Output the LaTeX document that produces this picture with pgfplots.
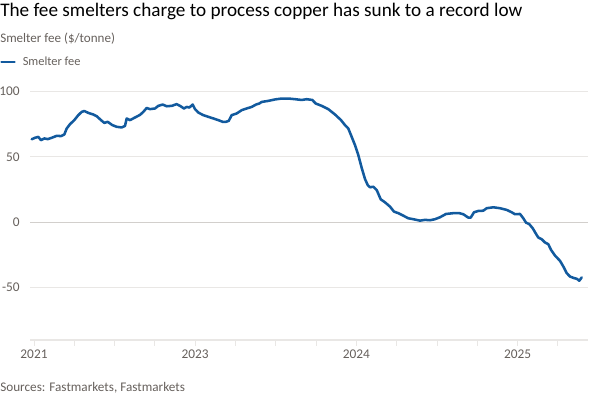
\documentclass[border=0pt]{standalone}
\usepackage{pgfplots}
\pgfplotsset{compat=1.18}
\usepackage{fontspec}
\setmainfont{Carlito}
\definecolor{ftblue}{HTML}{125A9E}
\definecolor{ftgrey}{HTML}{66605C}
\definecolor{gridc}{HTML}{E9E7E5}
\definecolor{zeroc}{HTML}{D2CFCC}
\pgfplotstableread{
x y
31.7 63.4
35 64.5
38.3 65.2
41 62.7
44.3 64
47.7 63.5
51.7 64.5
56.7 66
61 65.8
64.3 67
66.7 71.6
70 74.9
74.3 78
78.3 81.8
81.7 84.3
84.3 85
88.3 83.5
93.3 82.3
96.7 81
101 78
104.3 75.9
107.7 76.7
112.3 74.2
116.7 72.9
121.7 72.4
125 73.6
126.7 79.3
130 78
135 80
140 82
143.3 84.3
146.7 87.3
150 86.4
155 86.9
158.3 88.9
162.7 89.9
166.7 88.6
171.7 88.9
176.7 90.2
180 88.9
184 86.9
186.7 88.1
189.3 87.6
192.7 89.9
195 86.4
198.3 83.8
203.3 81.8
208.3 80.5
213.3 79.3
218.3 78
222.7 76.7
226 76.7
228.7 77.4
231.7 81.8
236.7 83.1
241.7 85.6
246.7 86.9
251.7 88.1
256 89.9
259.3 90.7
261.7 91.9
268.3 92.7
275 93.8
281.7 94.5
288.3 94.5
295 94
301.7 93.4
306.7 94
312.3 93.4
315.7 90.7
321.7 88.9
328.3 86.4
335 82.3
341 78
345 74.2
348.3 71.6
351.7 65.2
355 58.9
358.3 51.3
361.7 41.5
365 33
367.7 28.4
370 26.7
373.3 27.1
376.7 24.6
380.7 17.5
385 15.2
390 11.9
394 8.1
398.3 6.9
403.3 5
408.3 3
413.3 2.3
420 1.2
425 1.8
430 1.5
435 2.3
440 3.8
446 6.3
453.3 6.9
459.3 6.9
463.3 6.1
468.3 3.5
470.7 3.5
474 7.6
478.3 8.6
483.3 8.8
486.7 10.7
493.3 11.4
500 10.7
506.7 9.4
511.7 7.6
515 6.1
520 6.3
523.3 3
526 -0.3
529.3 -1.5
532.7 -4.6
536 -8.9
538.3 -11.7
541.7 -13
545 -15.5
548.3 -16.8
551 -21.1
555 -25.5
560 -29.5
563.3 -33.8
566.7 -38.9
570 -41.5
574 -42.7
576.7 -43.2
579.3 -44.7
581.7 -42.2
}\feedata
\begin{document}
\begin{tikzpicture}
\useasboundingbox (0,0) rectangle (450pt,300pt);
\begin{axis}[
  at={(22.5pt,45pt)}, anchor=south west,
  scale only axis, width=418.5pt, height=186.5pt,
  xmin=30, xmax=588, ymin=-90, ymax=100,
  axis x line*=bottom, axis y line*=left,
  y axis line style={draw=none},
  x axis line style={draw=gridc, line width=0.75pt},
  ytick={-50,0,50,100},
  ymajorgrids, major grid style={draw=gridc, line width=0.75pt},
  extra y ticks={0}, extra y tick labels={},
  extra y tick style={major grid style={draw=zeroc, line width=0.9pt}},
  ytick style={draw=none},
  xtick={34,74.3,114.6,154.9,195.2,235.5,275.8,316.1,356.4,396.7,437,477.3,517.6,557.9},
  xticklabels={2021,,,,2023,,,,2024,,,,2025,},
  tick align=outside, xtick style={draw=gridc, line width=0.75pt}, major tick length=4.5pt,
  ticklabel style={font=\fontsize{10}{11}\selectfont, text=ftgrey},
  /pgf/number format/assume math mode=true,
  yticklabel style={inner sep=0pt, xshift=-3pt},
  xticklabel style={inner sep=0pt, yshift=-3pt},
  legend style={at={(-0.0538,1.118)}, anchor=west, draw=none, fill=none, inner sep=0pt,
    font=\fontsize{9.3}{10}\selectfont, text=ftgrey, nodes={inner sep=0pt}, /tikz/column sep=5.25pt},
  legend cell align=left,
  legend image code/.code={\draw[ftblue, line width=1.9pt] (0pt,0pt) -- (9.75pt,0pt);},
]
\addplot[ftblue, line width=1.9pt, line join=round, line cap=round] table[x=x,y=y] {\feedata};
\addlegendentry{Smelter fee}
\end{axis}
\begin{scope}[shift={(0,300pt)}, x=0.75pt, y=-0.75pt]
\node[anchor=base west, inner sep=0pt, text=black, font=\fontsize{14.4}{15}\selectfont] at (0,17) {The fee smelters charge to process copper has sunk to a record low};
\node[anchor=base west, inner sep=0pt, text=ftgrey, font=\fontsize{9.8}{11}\selectfont] at (0,43) {Smelter fee (\$/tonne)};
\node[anchor=base west, inner sep=0pt, text=ftgrey, font=\fontsize{9.9}{11}\selectfont] at (0,392) {Sources: Fastmarkets, Fastmarkets};
\end{scope}
\end{tikzpicture}
\end{document}
